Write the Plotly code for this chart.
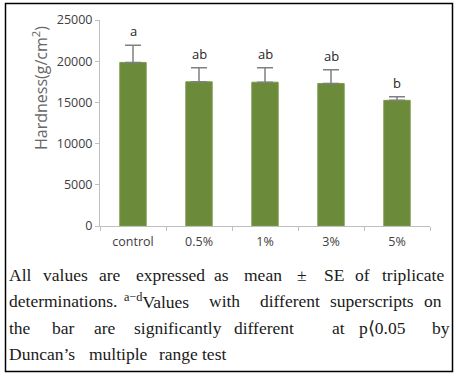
import plotly.graph_objects as go

categories = ["control", "0.5%", "1%", "3%", "5%"]
means = [19850, 17500, 17450, 17300, 15250]
se = [2080, 1700, 1750, 1650, 440]
letters = ["a", "ab", "ab", "ab", "b"]
y_ticks = [0, 5000, 10000, 15000, 20000, 25000]

W, H = 458, 376
L, R, T, B = 100, 28, 20, 150
PW, PH = W - L - R, H - T - B

def px(x):
    return (x - L) / PW

def py(y):
    return (H - B - y) / PH

fig = go.Figure()
fig.add_trace(go.Bar(
    x=categories, y=means, width=0.4,
    marker=dict(color="#6b8a3a", line=dict(color="#7c9b4c", width=1)),
    error_y=dict(type="data", array=se, arrayminus=[0] * len(se), symmetric=False,
                 color="#808080", thickness=1.5, width=8),
))

for c, m, s, l in zip(categories, means, se, letters):
    fig.add_annotation(x=c, y=m + s, text=l, showarrow=False, yanchor="bottom",
                       yshift=3, font=dict(family="Open Sans", size=13, color="#262626"))

# y-axis title
fig.add_annotation(xref="paper", yref="paper", x=px(40), y=py(88), text="Hardness(g/cm<sup>2</sup>)",
                   textangle=-90, showarrow=False, xanchor="center", yanchor="middle",
                   font=dict(family="Open Sans", size=16, color="#666666"))

# caption (justified by word placement)
cap_font = dict(family="Liberation Serif", size=17.5, color="#1a1a1a")
lines = [
    (280.5, [(10, "All"), (44, "values"), (100, "are"), (137, "expressed"), (215, "as"),
             (245, "mean"), (298, "±"), (325, "SE"), (356, "of"), (383, "triplicate")]),
    (307, [(10, "determinations."), (125, "<sup>a−d</sup>Values"), (210, "with"),
           (261, "different"), (331, "superscripts"), (425, "on")]),
    (333.5, [(10, "the"), (53, "bar"), (95, "are"), (135, "significantly"), (235, "different"),
             (333, "at"), (360, "p⟨0.05"), (433, "by")]),
    (360, [(10, "Duncan’s"), (90, "multiple"), (160, "range"), (203, "test")]),
]
for base, words in lines:
    for xw, w in words:
        fig.add_annotation(xref="paper", yref="paper", x=px(xw - 3), y=py(base - 6),
                           xanchor="left", yanchor="middle", text=w, showarrow=False,
                           font=cap_font)

fig.add_shape(type="rect", xref="paper", yref="paper",
              x0=px(5.5), x1=px(452.5), y0=py(371.5), y1=py(3.5),
              line=dict(color="black", width=1.5))

fig.update_layout(
    width=W, height=H, margin=dict(l=L, r=R, t=T, b=B),
    paper_bgcolor="white", plot_bgcolor="white", showlegend=False,
    font=dict(family="Open Sans", size=12.5, color="#404040"),
    xaxis=dict(showline=True, linecolor="#bfbfbf", linewidth=1, ticks="outside",
               tickson="boundaries", ticklen=4, tickcolor="#bfbfbf", showgrid=False,
               ticklabelstandoff=4,
               tickfont=dict(size=12.5, color="#404040")),
    yaxis=dict(range=[0, 25000], tickvals=y_ticks, ticktext=[str(v) for v in y_ticks],
               showline=True, linecolor="#bfbfbf",
               linewidth=1, ticks="outside", ticklen=4, tickcolor="#bfbfbf",
               showgrid=False, zeroline=False,
               tickfont=dict(size=12.5, color="#404040")),
)

fig.write_html("out.html", config={"displayModeBar": False},
               post_script="document.body.style.margin='0';document.body.style.overflow='hidden';")
